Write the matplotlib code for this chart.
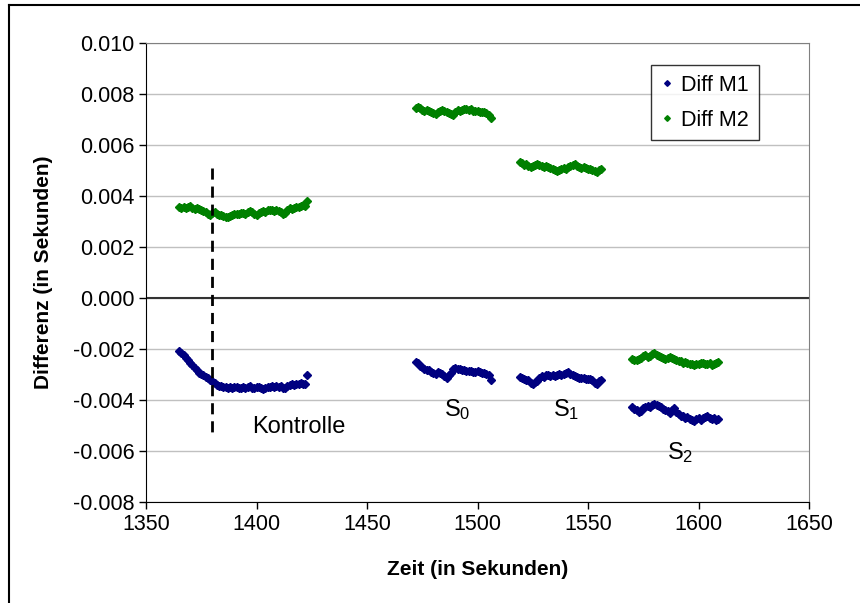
import numpy as np
import matplotlib
matplotlib.use('Agg')
import matplotlib.pyplot as plt
from matplotlib.ticker import FuncFormatter
from matplotlib.lines import Line2D

plt.rcParams['font.family'] = ['Liberation Sans', 'DejaVu Sans']
plt.rcParams['mathtext.fontset'] = 'custom'
plt.rcParams['mathtext.rm'] = 'Liberation Sans'
plt.rcParams['mathtext.it'] = 'Liberation Sans'

# Zeitabschnitte (Sekunden, 1 s Abstand)
t_kontrolle = np.arange(1365, 1424)
t_s0 = np.arange(1472, 1507)
t_s1 = np.arange(1519, 1557)
t_s2 = np.arange(1570, 1610)

# Differenzen in Millisekunden
kontrolle_m1 = [-2.08, -2.15, -2.22, -2.35, -2.42, -2.55, -2.62, -2.74, -2.80, -2.92,
                -2.98, -3.02, -3.10, -3.14, -3.22, -3.25, -3.30, -3.38, -3.42, -3.45,
                -3.48, -3.47, -3.50, -3.46, -3.52, -3.49, -3.48, -3.53, -3.50, -3.47,
                -3.51, -3.49, -3.45, -3.50, -3.52, -3.48, -3.46, -3.51, -3.54, -3.50,
                -3.47, -3.49, -3.45, -3.47, -3.44, -3.48, -3.45, -3.50, -3.53, -3.42,
                -3.38, -3.36, -3.40, -3.35, -3.37, -3.33, -3.36, -3.34, -3.00]
kontrolle_m2 = [3.56, 3.54, 3.58, 3.52, 3.57, 3.60, 3.55, 3.50, 3.53, 3.48,
                3.45, 3.40, 3.36, 3.30, 3.26, 3.33, 3.37, 3.31, 3.28, 3.27,
                3.24, 3.20, 3.17, 3.22, 3.26, 3.30, 3.32, 3.29, 3.33, 3.35,
                3.31, 3.36, 3.40, 3.36, 3.30, 3.28, 3.34, 3.38, 3.42, 3.38,
                3.44, 3.47, 3.45, 3.41, 3.44, 3.40, 3.36, 3.32, 3.35, 3.47,
                3.54, 3.51, 3.55, 3.58, 3.56, 3.60, 3.64, 3.62, 3.81]

s0_m1 = [-2.48, -2.55, -2.64, -2.70, -2.76, -2.80, -2.82, -2.87, -2.91, -2.95,
         -2.90, -2.94, -2.98, -3.05, -3.11, -3.02, -2.92, -2.76, -2.72, -2.76,
         -2.79, -2.81, -2.80, -2.84, -2.85, -2.83, -2.87, -2.88, -2.86, -2.90,
         -2.93, -2.92, -2.97, -3.02, -3.20]
s0_m2 = [7.47, 7.49, 7.44, 7.38, 7.32, 7.36, 7.33, 7.29, 7.25, 7.20,
         7.28, 7.33, 7.38, 7.34, 7.30, 7.26, 7.22, 7.18, 7.30, 7.37,
         7.34, 7.39, 7.43, 7.40, 7.37, 7.40, 7.35, 7.32, 7.34, 7.29,
         7.31, 7.28, 7.25, 7.16, 7.08]

s1_m1 = [-3.10, -3.12, -3.16, -3.20, -3.22, -3.30, -3.34, -3.28, -3.24, -3.12,
         -3.04, -3.07, -3.02, -2.99, -3.03, -3.00, -3.04, -3.01, -2.97, -2.99,
         -2.95, -2.91, -2.89, -2.95, -3.00, -3.03, -3.08, -3.12, -3.14, -3.12,
         -3.16, -3.18, -3.15, -3.22, -3.30, -3.36, -3.24, -3.20]
s1_m2 = [5.32, 5.28, 5.24, 5.26, 5.20, 5.16, 5.18, 5.22, 5.25, 5.21,
         5.18, 5.15, 5.17, 5.14, 5.12, 5.08, 5.04, 5.00, 5.03, 5.08,
         5.10, 5.07, 5.13, 5.17, 5.22, 5.25, 5.20, 5.15, 5.12, 5.13,
         5.10, 5.07, 5.08, 5.03, 4.98, 4.96, 5.02, 5.06]

s2_m1 = [-4.25, -4.32, -4.38, -4.46, -4.40, -4.31, -4.26, -4.22, -4.27, -4.20,
         -4.15, -4.18, -4.24, -4.27, -4.32, -4.36, -4.42, -4.50, -4.39, -4.31,
         -4.46, -4.55, -4.60, -4.63, -4.69, -4.66, -4.72, -4.75, -4.79, -4.74,
         -4.71, -4.76, -4.70, -4.67, -4.63, -4.69, -4.73, -4.70, -4.75, -4.73]
s2_m2 = [-2.36, -2.40, -2.42, -2.38, -2.33, -2.27, -2.24, -2.29, -2.26, -2.20,
         -2.16, -2.22, -2.27, -2.31, -2.35, -2.38, -2.34, -2.30, -2.33, -2.37,
         -2.40, -2.44, -2.47, -2.52, -2.49, -2.55, -2.58, -2.56, -2.61, -2.57,
         -2.59, -2.54, -2.52, -2.56, -2.58, -2.55, -2.60, -2.56, -2.52, -2.49]

zeit = np.concatenate([t_kontrolle, t_s0, t_s1, t_s2])
diff_m1 = np.concatenate([kontrolle_m1, s0_m1, s1_m1, s2_m1]) / 1000
diff_m2 = np.concatenate([kontrolle_m2, s0_m2, s1_m2, s2_m2]) / 1000

fig = plt.figure(figsize=(8.6, 6.03), dpi=100)
ax = fig.add_axes([0.1698, 0.1667, 0.7709, 0.762])

# Rahmen um das Diagramm
fig.add_artist(Line2D([9 / 860, 9 / 860], [0, 1 - 5 / 603], transform=fig.transFigure, color='black', lw=1.5))
fig.add_artist(Line2D([9 / 860, 1], [1 - 5 / 603, 1 - 5 / 603], transform=fig.transFigure, color='black', lw=1.5))

ax.set_xlim(1350, 1650)
ax.set_ylim(-0.008, 0.010)
ax.set_xticks(np.arange(1350, 1651, 50))
ax.set_yticks(np.arange(-0.008, 0.0101, 0.002))
ax.yaxis.set_major_formatter(FuncFormatter(lambda v, p: f'{v:.3f}'.replace('-0.000', '0.000')))
ax.grid(axis='y', color='#c0c0c0', lw=1)
ax.set_axisbelow(True)
ax.tick_params(direction='out', length=5, width=1, labelsize=15.5, colors='black')
for s in ['top', 'right']:
    ax.spines[s].set_color('#808080')
ax.spines['left'].set_color('black')
ax.spines['bottom'].set_color('black')

ax.axhline(0, color='#333333', lw=1.5, zorder=2)
ax.plot([1380, 1380], [0.0051, -0.00535], color='black', lw=2, ls=(0, (4, 2.5)), zorder=4)

ax.plot(zeit, diff_m1, ls='none', marker='D', ms=3.6, color='#000080', label='Diff M1', zorder=3)
ax.plot(zeit, diff_m2, ls='none', marker='D', ms=3.6, color='#008000', label='Diff M2', zorder=3)

ax.text(1419, -0.00504, 'Kontrolle', fontsize=17, ha='center', va='center')
ax.text(1491, -0.00437, r'S$_\mathrm{0}$', fontsize=17, ha='center', va='center')
ax.text(1540, -0.00437, r'S$_\mathrm{1}$', fontsize=17, ha='center', va='center')
ax.text(1591.5, -0.00606, r'S$_\mathrm{2}$', fontsize=17, ha='center', va='center')

ax.set_xlabel('Zeit (in Sekunden)', fontsize=15, fontweight='bold', labelpad=18)
ax.set_ylabel('Differenz (in Sekunden)', fontsize=15, fontweight='bold', labelpad=14)

leg = ax.legend(loc='upper right', bbox_to_anchor=(0.924, 0.952), fontsize=15.5, frameon=True,
                fancybox=False, edgecolor='black', handlelength=0.6, handletextpad=0.35,
                markerscale=0.8, borderpad=0.45, labelspacing=0.65, borderaxespad=0)
leg.get_frame().set_linewidth(1)

plt.savefig('out.png', dpi=100)
